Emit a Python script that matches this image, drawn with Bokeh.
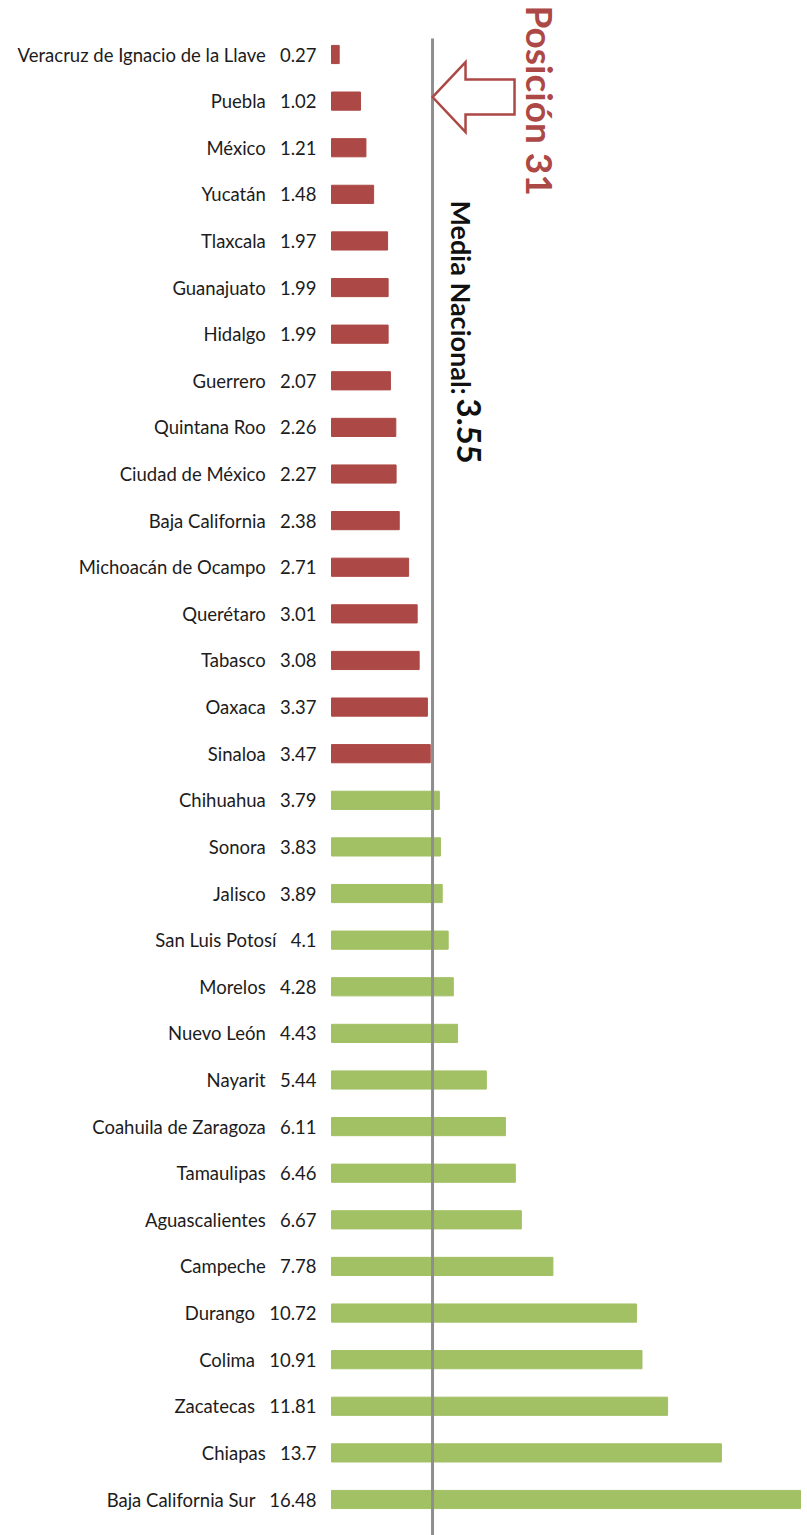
import math
from bokeh.plotting import figure
from bokeh.models import ColumnDataSource, Range1d
from bokeh.core.properties import value
from bokeh.embed import file_html
from bokeh.resources import INLINE

# ---------------- data ----------------
states = [
    "Veracruz de Ignacio de la Llave", "Puebla", "México", "Yucatán", "Tlaxcala",
    "Guanajuato", "Hidalgo", "Guerrero", "Quintana Roo", "Ciudad de México",
    "Baja California", "Michoacán de Ocampo", "Querétaro", "Tabasco", "Oaxaca",
    "Sinaloa", "Chihuahua", "Sonora", "Jalisco", "San Luis Potosí", "Morelos",
    "Nuevo León", "Nayarit", "Coahuila de Zaragoza", "Tamaulipas",
    "Aguascalientes", "Campeche", "Durango", "Colima", "Zacatecas", "Chiapas",
    "Baja California Sur",
]
values = [
    0.27, 1.02, 1.21, 1.48, 1.97, 1.99, 1.99, 2.07, 2.26, 2.27, 2.38, 2.71,
    3.01, 3.08, 3.37, 3.47, 3.79, 3.83, 3.89, 4.1, 4.28, 4.43, 5.44, 6.11,
    6.46, 6.67, 7.78, 10.72, 10.91, 11.81, 13.7, 16.48,
]
media_nacional = 3.55
posicion_label = "Posición 31"
highlight_state = "Puebla"
media_label = "Media Nacional:"

RED = "#ac4845"
GREEN = "#a2c064"
LINE = "#8e8e8e"

# ---------------- layout ----------------
W, H = 807, 1535
x0_px = 331                          # pixel position of x = 0
px_unit = (800 - x0_px) / 16.48      # pixels per data unit
top_px = 54                          # pixel centre of first row
row_px = (1499 - 54) / 31            # pixels per row
n = len(states)

x_range = Range1d(-x0_px / px_unit, (W - x0_px) / px_unit)
y_top = -top_px / row_px
y_bottom = y_top + H / row_px
y_range = Range1d(start=y_bottom, end=y_top)

idx = list(range(n))
colors = [RED if v < media_nacional else GREEN for v in values]
labels = [f"{s}\u00a0\u00a0\u00a0{v}" for s, v in zip(states, values)]

src = ColumnDataSource(dict(y=idx, v=values, color=colors, label=labels))

p = figure(width=W, height=H, x_range=x_range, y_range=y_range,
           output_backend="svg", toolbar_location=None,
           min_border=0, min_border_left=0, min_border_right=0,
           min_border_top=0, min_border_bottom=0)
p.axis.visible = False
p.grid.visible = False
p.outline_line_color = None
p.background_fill_color = "white"

p.hbar(y="y", left=0, right="v", height=0.39, color="color", source=src)

p.text(x=0, y="y", text="label", source=src, x_offset=-15,
       text_align="right", text_baseline="middle",
       text_font=value("Lato"), text_font_size="18.5px", text_color="#1c1c1c")

# mean line
p.segment(x0=media_nacional, x1=media_nacional, y0=y_top + 38 / row_px,
          y1=y_bottom, line_color=LINE, line_width=3)

# hollow arrow pointing at the mean line, on the highlighted row
yp = states.index(highlight_state) - 4 / row_px
hx = 33 / px_unit
sx = 82 / px_unit
hh = 35 / row_px
sh = 17.5 / row_px
m = media_nacional
ax = [m, m + hx, m + hx, m + sx, m + sx, m + hx, m + hx]
ay = [yp, yp - hh, yp - sh, yp - sh, yp + sh, yp + sh, yp + hh]
p.patch(ax, ay, fill_color="white", line_color=RED, line_width=2.5,
        line_join="miter")

# rotated annotations
p.text(x=[(540 - x0_px) / px_unit], y=[y_top + 5 / row_px], text=[posicion_label],
       angle=-math.pi / 2, text_align="left", text_baseline="middle",
       text_font=value("Lato"), text_font_style="bold", text_font_size="37px",
       text_color=RED)

p.text(x=[(461 - x0_px) / px_unit], y=[y_top + 200 / row_px], text=[media_label],
       angle=-math.pi / 2, text_align="left", text_baseline="middle",
       text_font=value("Lato"), text_font_style="bold", text_font_size="27px",
       text_color="#111111")
p.text(x=[(468 - x0_px) / px_unit], y=[y_top + 398 / row_px], text=[str(media_nacional)],
       angle=-math.pi / 2, text_align="left", text_baseline="middle",
       text_font=value("Lato"), text_font_style="bold", text_font_size="33px",
       text_color="#111111")

open("out.html", "w").write(file_html(p, INLINE))
